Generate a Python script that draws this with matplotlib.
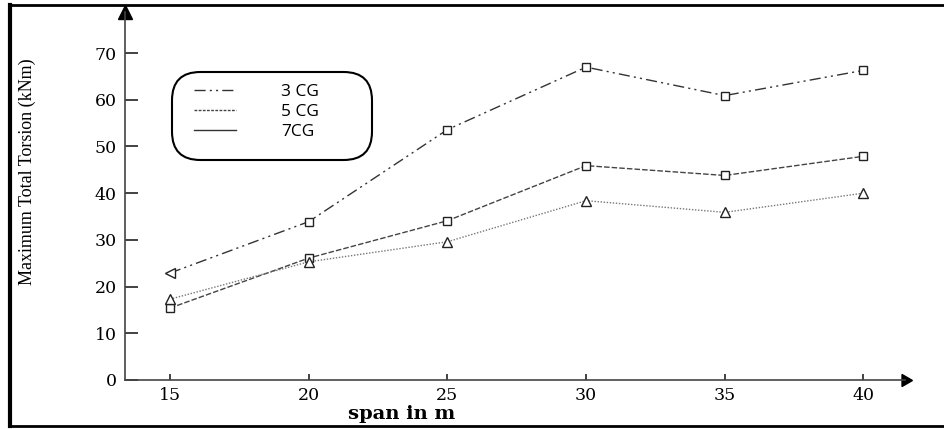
import matplotlib
matplotlib.use("Agg")
import matplotlib.pyplot as plt
from matplotlib.lines import Line2D
from matplotlib.patches import FancyBboxPatch

# data
span = [15, 20, 25, 30, 35, 40]
cg3 = [22.9, 33.9, 53.6, 67.0, 60.9, 66.3]
cg5 = [15.4, 26.1, 34.1, 45.9, 43.8, 47.9]
cg7 = [17.3, 25.3, 29.6, 38.4, 35.9, 40.0]
series_labels = ["3 CG", "5 CG", "7CG"]
x_ticks = [15, 20, 25, 30, 35, 40]
y_ticks = [0, 10, 20, 30, 40, 50, 60, 70]

W, H = 945, 429
fig = plt.figure(figsize=(W / 100, H / 100), dpi=100)

# axes placed in pixel terms: y-axis at x=125, x-axis at y=380
ax = fig.add_axes([125 / W, (H - 380) / H, 780 / W, 368 / H])
ax.set_xlim(13.38, 41.5)
ax.set_ylim(0, 78.8)

ax.plot(span, cg3, color="#333333", lw=1.0, dashes=(8, 3, 1.5, 3, 1.5, 3),
        marker="s", ms=6, mfc="white", mec="#222222", mew=1.0, markevery=list(range(1, 6)))
ax.plot(span[0], cg3[0], marker="<", ms=7, mfc="white", mec="#222222", mew=1.0, ls="none")
ax.plot(span, cg5, color="#444444", lw=1.0, dashes=(4, 1.5),
        marker="s", ms=6, mfc="white", mec="#222222", mew=1.0)
ax.plot(span, cg7, color="#777777", lw=1.0, ls=(0, (1, 1.2)),
        marker="^", ms=7, mfc="white", mec="#222222", mew=1.0)

for s in ["top", "right"]:
    ax.spines[s].set_visible(False)
for s in ["left", "bottom"]:
    ax.spines[s].set_color("#444444")
    ax.spines[s].set_linewidth(1.2)

# arrow heads at the ends of the axes
ax.plot(1, 0, marker=(3, 0, -90), ms=10, color="black", transform=ax.transAxes, clip_on=False)
ax.plot(0, 1, marker="^", ms=10, color="black", transform=ax.transAxes, clip_on=False)

ax.set_xticks(x_ticks)
ax.set_yticks(y_ticks)
tick_font = dict(family="DejaVu Serif", size=12.5)
ax.set_xticklabels([str(v) for v in x_ticks], fontdict=tick_font)
ax.set_yticklabels([str(v) for v in y_ticks], fontdict=tick_font)
ax.tick_params(axis="x", direction="in", length=4, width=1.2, color="#222222", pad=5)
ax.tick_params(axis="y", direction="in", length=9, width=1.2, color="#222222", pad=6)

fig.text(402 / W, (H - 414) / H, "span in m", ha="center", va="center",
         family="DejaVu Serif", fontsize=14, fontweight="bold")
fig.text(27 / W, (H - 172) / H, "Maximum Total Torsion (kNm)", rotation=90,
         ha="center", va="center", family="Liberation Serif", fontsize=13)

# legend box with rounded corners
box = FancyBboxPatch((172 / W, (H - 160) / H), 200 / W, 88 / H,
                     boxstyle="round,pad=0,rounding_size=0.03",
                     transform=fig.transFigure, fc="white", ec="black", lw=1.5,
                     mutation_aspect=W / H)
fig.patches.append(box)
handles = [
    Line2D([], [], color="#333333", lw=1.0, dashes=(8, 3, 1.5, 3, 1.5, 3)),
    Line2D([], [], color="#444444", lw=1.0, dashes=(2, 1)),
    Line2D([], [], color="#333333", lw=1.0),
]
fig.legend(handles, series_labels, loc="upper left",
           bbox_to_anchor=(194 / W, (H - 84) / H), frameon=False,
           prop=dict(family="Open Sans", size=12.5), handlelength=2.4,
           handletextpad=2.6, labelspacing=0.22, borderpad=0, borderaxespad=0)

# outer frame of the picture
fig.add_artist(Line2D([10 / W, 10 / W], [3 / H, 1 - 5 / H], transform=fig.transFigure,
                      color="black", lw=3))
fig.add_artist(Line2D([10 / W, 1], [1 - 5 / H, 1 - 5 / H], transform=fig.transFigure,
                      color="black", lw=2))
fig.add_artist(Line2D([10 / W, 1], [3 / H, 3 / H], transform=fig.transFigure,
                      color="black", lw=2))

fig.savefig("out.png", dpi=100)
